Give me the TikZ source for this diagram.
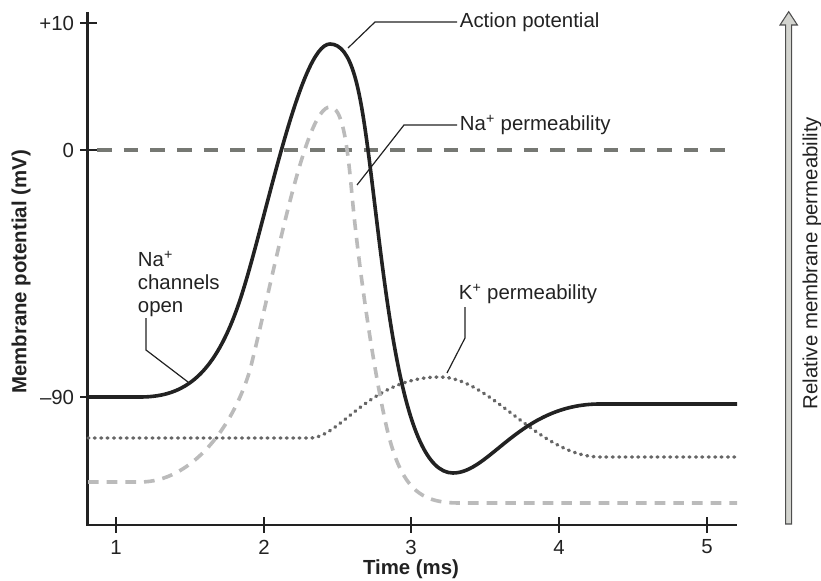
\documentclass[tikz,border=0pt]{standalone}
\usepackage{fontspec}
\setmainfont{Liberation Sans}
\usetikzlibrary{positioning}
\definecolor{inkgray}{HTML}{222222}
\definecolor{zerogray}{HTML}{767873}
\definecolor{nagray}{HTML}{BBBBBB}
\definecolor{kgray}{HTML}{666666}
\definecolor{arrowfill}{HTML}{D3D4CF}

\begin{document}
\begin{tikzpicture}[x=0.75pt,y=-0.75pt,
  font=\fontsize{15.3}{17.25}\selectfont, text=inkgray,
  axisline/.style={line width=1.8pt,inkgray},
  apline/.style={line width=2.7pt,inkgray},
  naline/.style={line width=2.7pt,nagray,dash pattern=on 8pt off 6pt},
  kline/.style={line width=2.6pt,kgray,dash pattern=on 0.6pt off 4.2pt,line cap=round},
  zeroline/.style={line width=2.6pt,zerogray,dash pattern=on 11pt off 9pt},
  leader/.style={line width=0.9pt,inkgray},
  lbl/.style={inner sep=2pt}]
\useasboundingbox (0,0) rectangle (821,581);

% axes
\draw[axisline] (87.5,12) -- (87.5,525) -- (737,525);
\node[lbl,anchor=east] (ytop) at (77,23) {+10};
\node[lbl,anchor=east] (yzero) at (77,150) {0};
\node[lbl,anchor=east] (yrest) at (77,397) {--90};
\foreach \yy in {23,150,397}
  \draw[axisline] (80,\yy) -- (97,\yy);
\foreach \t/\xx in {1/116,2/264,3/411,4/559,5/707} {
  \draw[axisline] (\xx,517) -- (\xx,533);
  \node[lbl] (tick\t) at (\xx,547) {\t};
}
\node[lbl,font=\fontsize{15.3}{17.25}\selectfont\bfseries] (xtitle) at (411,569) {Time (ms)};
\node[lbl,rotate=90,font=\fontsize{15.3}{17.25}\selectfont\bfseries] (ytitle) at (21,272) {Membrane potential (mV)};

% permeability arrow
\draw[line width=0.8pt,draw=inkgray!80,fill=arrowfill]
  (785.7,524) -- (785.7,25) -- (780,25) -- (788.7,11.7) -- (797.4,25)
  -- (791.7,25) -- (791.7,524) -- cycle;
\node[lbl,rotate=90] (permtitle) at (812,263) {Relative membrane permeability};

% zero line
\draw[zeroline] (97,150) -- (737,150);

% K+ permeability
\draw[kline] (88,438) -- (310,438)
  .. controls (340,438) and (370,377) .. (440,377)
  .. controls (490,377) and (540,457) .. (600,457) -- (737,457);

% Na+ permeability
\draw[naline] (88,482) -- (140,482)
  .. controls (190,482) and (232,430) .. (250,370)
  .. controls (275,270) and (305,107) .. (330,107)
  .. controls (342,107) and (347,140) .. (352,195)
  .. controls (357,250) and (370,350) .. (385,420)
  .. controls (400,490) and (420,503) .. (460,503) -- (737,503);

% action potential
\draw[apline] (88,397) -- (140,397)
  .. controls (185,397) and (215,375) .. (240,300)
  .. controls (265,225) and (300,44) .. (330,44)
  .. controls (352,44) and (360,90) .. (368,150)
  .. controls (385,280) and (400,473) .. (453,473)
  .. controls (490,473) and (520,404) .. (600,404) -- (737,404);

% labels
\node[lbl,anchor=west] (aplbl) at (457,22) {Action potential};
\coordinate (aptip) at (348,48);
\draw[leader] (aptip) -- (375,22) -- (aplbl.west);

\node[lbl,anchor=west] (nalbl) at (457,125) {Na\textsuperscript{+} permeability};
\coordinate (natip) at (357,185);
\draw[leader] (natip) -- (404,125) -- (nalbl.west);

\node[lbl,anchor=west] (klbl) at (456,294) {K\textsuperscript{+} permeability};
\coordinate (ktip) at (447,373);
\draw[leader] (ktip) -- (465,338) -- (465,307);

\node[lbl,anchor=west,align=left] (chanlbl) at (135,284) {Na\textsuperscript{+}\\channels\\open};
\coordinate (chantip) at (188,382);
\draw[leader] (chantip) -- (146,350) -- (146,318);
\end{tikzpicture}
\end{document}
